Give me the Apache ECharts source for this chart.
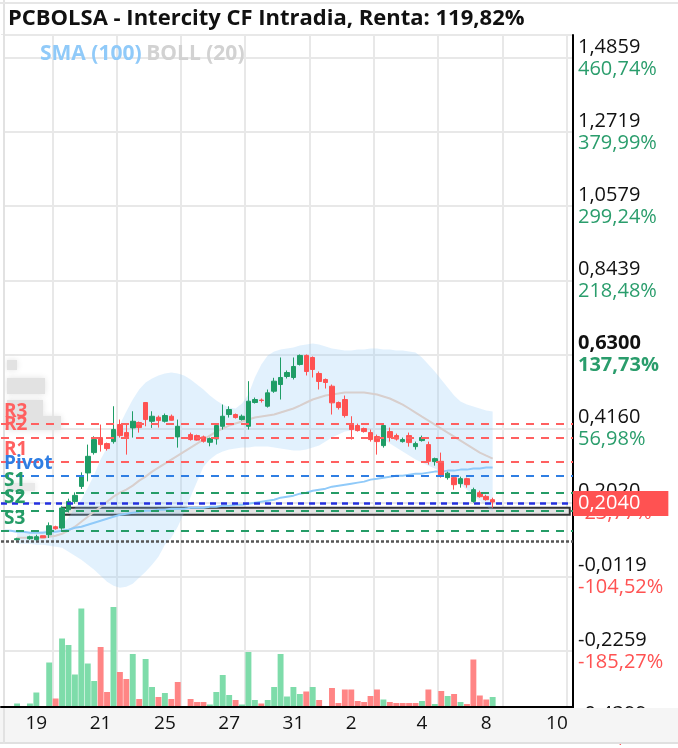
<!DOCTYPE html>
<html><head><meta charset="utf-8">
<script src="https://cdn.jsdelivr.net/npm/echarts@6/dist/echarts.min.js"></script>
<style>html,body{margin:0;padding:0;background:#fff}#c{width:678px;height:748px}</style>
</head><body><div id="c"></div>
<script>
// ---- data ----
const opens  = [null,null,0.0950,null,0.0979,0.0950,0.1066,0.1094,0.1326,0.1288,0.1817,0.2057,0.2491,0.2879,0.3466,0.3900,0.3726,0.3784,0.4276,0.4044,0.4180,0.4333,0.4912,0.4371,0.4487,0.4371,0.4516,0.3920,null,0.3986,0.3957,0.3920,0.3764,0.3862,0.4226,0.4565,0.4565,0.4420,0.4226,0.4912,0.4984,0.4805,0.5239,0.5432,0.5664,0.5635,0.6011,0.6271,0.6213,0.5751,0.5577,0.5383,0.4912,0.4999,0.4276,0.4247,0.4160,0.4044,0.3929,0.3668,0.4073,0.3957,0.3784,0.3957,0.3639,0.3813,0.3697,0.3206,0.3214,0.2743,0.2743,0.2569,0.2714,0.2057,0.2309,0.2202,0.2107];
const closes = [null,null,0.0979,null,0.1037,0.1037,0.1008,0.1355,0.1268,0.1867,0.2057,0.2231,0.2801,0.3359,0.3842,0.3697,0.3582,0.4131,0.3957,0.3929,0.4371,0.4189,0.4420,0.4516,0.4391,0.4536,0.4400,0.4226,null,0.3842,0.3827,0.3793,0.3871,0.4247,0.4516,0.4709,0.4478,0.4516,0.4950,0.4999,0.4970,0.5192,0.5528,0.5635,0.5779,0.5953,0.6271,0.5808,0.5866,0.5519,0.5490,0.4903,0.4767,0.4536,0.4131,0.4102,0.4073,0.3842,0.3784,0.4247,0.3900,0.3856,0.3842,0.3755,0.3726,0.3900,0.3214,0.3292,0.2780,0.2873,0.2540,0.2714,0.2540,0.2396,0.2193,0.2107,0.2040];
const lows   = [null,null,0.0921,null,0.0950,0.0921,0.1008,0.1001,0.1239,0.1239,0.1739,0.1991,0.2416,0.2636,0.3408,0.3495,0.3524,0.3726,0.3900,0.3408,0.3900,0.4044,0.4226,0.4180,0.4189,0.4334,0.4391,0.3610,null,0.3813,0.3813,0.3755,0.3648,0.3697,0.4131,0.4478,0.4449,0.4391,0.4131,0.4883,0.4912,0.4767,0.5192,0.4999,0.5606,0.5577,0.5982,0.5693,0.5635,0.5288,0.5317,0.4565,0.4709,0.4478,0.3842,0.4073,0.4044,0.3784,0.3408,0.3610,0.3784,0.3813,0.3755,0.3639,0.3553,0.3784,0.3119,0.3090,0.2743,0.2685,0.2396,0.2454,0.2454,0.2020,0.2164,0.2078,0.1875];
const highs  = [null,null,0.1008,null,0.1066,0.1094,0.1066,0.1450,0.1355,0.1913,0.2136,0.2318,0.2896,0.3697,0.3937,0.4276,0.3755,0.4805,0.4420,0.4276,0.4660,0.4362,0.4912,0.4660,0.4536,0.4594,0.4565,0.4420,null,0.4044,0.3986,0.3957,0.3900,0.4276,0.4854,0.4805,0.4594,0.4565,0.5528,0.5056,0.5027,0.5288,0.5626,0.6213,0.5837,0.6213,0.6300,0.6300,0.6242,0.5808,0.5606,0.5432,0.4941,0.5114,0.4516,0.4305,0.4189,0.4131,0.3986,0.4305,0.4189,0.4015,0.3900,0.4044,0.3784,0.3957,0.3784,0.3321,0.3466,0.2916,0.2772,0.2772,0.2743,0.2454,0.2367,0.2251,0.2164];
const volumes = [null,null,3.5,null,3.5,14.5,0.5,44.5,8.5,68.5,62,32.5,98.5,43.5,26,60,15,100,35,28,53,8,48,20,10,14,8,25,null,8,5,5,2.5,15,32,12,7,2.5,55,7,3.5,7,20,53,10.5,20,13,15.5,20,7,0.5,19,4,17.5,17.5,6,5,11,17.5,7.5,5,4,4,4,4,6,17.5,3,16,11,13,5,3,47.5,11.5,7.5,10];
const volumeRising = [0,0,1,0,1,1,0,1,0,1,1,1,1,1,1,0,0,1,0,0,1,0,1,1,0,1,0,0,0,0,0,0,1,1,1,1,0,1,1,1,0,1,1,1,1,1,1,0,1,0,0,0,0,0,0,0,0,0,0,1,0,0,0,0,0,1,0,1,0,1,0,1,0,0,0,0,1];
const sma100 = [0.1211,0.1211,0.1182,0.1182,0.1153,0.1153,0.1153,0.1182,0.1182,0.1211,0.1240,0.1297,0.1326,0.1384,0.1442,0.1500,0.1558,0.1616,0.1673,0.1702,0.1731,0.1760,0.1789,0.1789,0.1818,0.1818,0.1847,0.1847,0.1847,0.1876,0.1876,0.1876,0.1905,0.1905,0.1934,0.1934,0.1963,0.1963,0.1991,0.2020,0.2049,0.2078,0.2107,0.2165,0.2194,0.2223,0.2281,0.2310,0.2367,0.2396,0.2425,0.2483,0.2512,0.2541,0.2570,0.2599,0.2628,0.2686,0.2714,0.2743,0.2772,0.2801,0.2801,0.2830,0.2859,0.2859,0.2888,0.2917,0.2917,0.2946,0.2946,0.2975,0.2975,0.3004,0.3004,0.3033,0.3033];
const bollUpper = [null,null,0.1182,0.1182,0.1182,0.1182,0.1211,0.1240,0.1297,0.1413,0.1587,0.1876,0.2107,0.2454,0.2830,0.3264,0.3611,0.3900,0.4276,0.4652,0.4999,0.5288,0.5490,0.5606,0.5693,0.5751,0.5779,0.5751,0.5693,0.5577,0.5432,0.5288,0.5114,0.4970,0.4854,0.4767,0.4739,0.4883,0.5143,0.5635,0.6011,0.6271,0.6387,0.6445,0.6473,0.6502,0.6560,0.6589,0.6618,0.6589,0.6531,0.6473,0.6445,0.6416,0.6416,0.6445,0.6445,0.6473,0.6473,0.6445,0.6445,0.6416,0.6416,0.6387,0.6358,0.6213,0.6011,0.5808,0.5577,0.5346,0.5114,0.4941,0.4854,0.4796,0.4739,0.4681,0.4652];
const bollMid = [null,null,0.1008,0.1008,0.1008,0.1008,0.1008,0.1037,0.1066,0.1124,0.1211,0.1326,0.1471,0.1616,0.1760,0.1905,0.2049,0.2194,0.2310,0.2396,0.2512,0.2657,0.2772,0.2917,0.3033,0.3148,0.3264,0.3379,0.3495,0.3611,0.3726,0.3842,0.3958,0.4073,0.4160,0.4247,0.4305,0.4363,0.4420,0.4478,0.4507,0.4536,0.4565,0.4623,0.4681,0.4739,0.4825,0.4912,0.4999,0.5057,0.5114,0.5143,0.5172,0.5201,0.5201,0.5201,0.5201,0.5172,0.5143,0.5086,0.5028,0.4941,0.4854,0.4739,0.4623,0.4507,0.4392,0.4276,0.4160,0.4044,0.3929,0.3813,0.3698,0.3582,0.3466,0.3379,0.3293];
const bollLower = [null,null,0.0835,0.0835,0.0835,0.0806,0.0806,0.0777,0.0748,0.0719,0.0604,0.0488,0.0372,0.0228,0.0083,-0.0091,-0.0264,-0.0380,-0.0437,-0.0409,-0.0322,-0.0149,0.0025,0.0228,0.0459,0.0806,0.1008,0.1326,0.1731,0.2194,0.2628,0.3061,0.3264,0.3408,0.3495,0.3553,0.3582,0.3611,0.3611,0.3640,0.3640,0.3640,0.3611,0.3582,0.3553,0.3524,0.3524,0.3553,0.3611,0.3669,0.3784,0.3900,0.3987,0.4073,0.4102,0.4102,0.4073,0.4016,0.3929,0.3842,0.3726,0.3611,0.3495,0.3379,0.3264,0.3177,0.3090,0.3004,0.2917,0.2801,0.2686,0.2541,0.2396,0.2223,0.2078,0.1934,0.1760];

const slotCount = 89;
const dateLabels = ['19','21','25','27','31','2','4','8','10'];
const dateLabelSlots = [5,15,25,35,45,54,65,75,86];
const priceTickLabels = ['-0,4399','-0,2259','-0,0119','0,2020','0,4160','0,6300','0,8439','1,0579','1,2719','1,4859'];
const pctTickLabels = ['-266,02%','-185,27%','-104,52%','-23,77%','56,98%','137,73%','218,48%','299,24%','379,99%','460,74%'];
const pivotNames = ['R3','R2','R1','Pivot','S1','S2','S3'];
const pivotValues = [0.4276,0.3871,0.3235,0.2830,0.2251,0.1789,0.1211];
const lastPrice = 0.2040, lastPriceLabel = '0,2040';
const lowLevel = 0.0922;
const positionBand = [0.1876, 0.1673];
const positionStartSlot = 9;

// ---- build ----
const FONT = "'Open Sans', 'Noto Sans', sans-serif";
const categories = Array.from({length: slotCount}, (_, i) => {
  const k = dateLabelSlots.indexOf(i); return k >= 0 ? dateLabels[k] : '';
});
const num = s => parseFloat(s.replace(',', '.'));
const tickVals = priceTickLabels.map(num);
const yMin = tickVals[0];
const yInterval = (tickVals[tickVals.length-1] - tickVals[0]) / (tickVals.length - 1);
const yMax = 1.5524;

const candleData = opens.map((o, i) => o == null ? '-' : [o, closes[i], lows[i], highs[i]]);
const UP = '#1f9d66', DOWN = '#ff5252';
const volData = volumes.map((v, i) => v == null ? '-' : {value: v, itemStyle: {color: volumeRising[i] ? '#7edcaa' : '#ff8585'}});
const bandDiff = bollUpper.map((u, i) => u == null ? '-' : +(u - bollLower[i]).toFixed(4));
const pivotColors = ['#ff6060','#ff6060','#ff6060','#2f7ee3','#259c67','#259c67','#259c67'];
const rs = (c, w) => ({color: c, fontSize: 20, lineHeight: 22, fontWeight: w, fontFamily: FONT});

const chart = echarts.init(document.getElementById('c'));
chart.setOption({
  animation: false,
  textStyle: {fontFamily: FONT},
  title: [
    {text: 'PCBOLSA - Intercity CF Intradia, Renta: 119,82%', left: 3, top: 3,
     textStyle: {fontSize: 22, fontWeight: 'bold', color: '#111', fontFamily: FONT}},
    {text: '{a|SMA (100)} {b|BOLL (20)}', left: 35, top: 39,
     textStyle: {rich: {a: {color: '#90caf9', fontSize: 21, fontWeight: 'bold', fontFamily: FONT},
                        b: {color: '#d2d2d2', fontSize: 21, fontWeight: 'bold', fontFamily: FONT}}}}
  ],
  grid: [
    {left: 1, right: 105, top: 35, bottom: 23},
    {left: 1, right: 105, bottom: 41, height: 120}
  ],
  xAxis: [
    {type: 'category', gridIndex: 0, data: categories, boundaryGap: true,
     axisLine: {show: false}, axisTick: {show: false}, axisLabel: {show: false},
     splitLine: {show: true, interval: (i) => i >= 8 && (i - 8) % 10 === 0, lineStyle: {color: '#e8e8e8', width: 2}}},
    {type: 'category', gridIndex: 1, data: categories, boundaryGap: true, z: 10,
     axisLine: {show: true, lineStyle: {color: '#000', width: 2}}, axisTick: {show: false},
     axisLabel: {interval: (i, v) => v !== '', color: '#111', fontSize: 19, margin: 7, fontFamily: FONT},
     splitLine: {show: false}}
  ],
  yAxis: [
    {type: 'value', gridIndex: 0, position: 'right', min: yMin, max: yMax, interval: yInterval, scale: true,
     axisLine: {show: true, lineStyle: {color: '#000', width: 2}}, axisTick: {show: false},
     splitLine: {show: true, lineStyle: {color: '#e8e8e8', width: 2}},
     axisLabel: {margin: 5, showMaxLabel: false,
       formatter: (v) => {
         const i = tickVals.findIndex(t => Math.abs(t - v) < yInterval / 4);
         if (i < 0) return '';
         const neg = pctTickLabels[i].startsWith('-');
         const b = i === 5 ? 'b' : '';
         return '{p' + b + '|' + priceTickLabels[i] + '}\n{' + (neg ? 'r' : 'g') + b + '|' + pctTickLabels[i] + '}';
       },
       rich: {
         p: rs('#111', 'normal'), pb: rs('#111', 'bold'),
         g: rs('#2a9d6c', 'normal'), gb: rs('#2a9d6c', 'bold'),
         r: rs('#ff5252', 'normal'), rb: rs('#ff5252', 'bold')
       }}},
    {type: 'value', gridIndex: 1, min: 0, max: 120, show: false, splitLine: {show: false}}
  ],
  series: [
    {name: 'bollLow', type: 'line', data: bollLower, stack: 'boll', stackStrategy: 'all', symbol: 'none',
     lineStyle: {opacity: 0}, silent: true, z: 1},
    {name: 'bollBand', type: 'line', data: bandDiff, stack: 'boll', stackStrategy: 'all', symbol: 'none',
     lineStyle: {opacity: 0}, areaStyle: {color: 'rgba(144,202,249,0.26)', opacity: 1}, silent: true, z: 1},
    {name: 'BOLL (20)', type: 'line', data: bollMid, symbol: 'none', lineStyle: {color: '#d8cfcd', width: 2}, z: 2, silent: true},
    {name: 'SMA (100)', type: 'line', data: sma100, symbol: 'none', lineStyle: {color: '#90caf9', width: 2}, z: 2, silent: true},
    {name: 'PCBOLSA', type: 'candlestick', data: candleData, barWidth: 5, z: 3,
     itemStyle: {color: UP, color0: DOWN, borderColor: UP, borderColor0: DOWN, borderWidth: 1},
     markArea: {silent: true, itemStyle: {color: '#e4e4e4', borderColor: '#333', borderWidth: 2},
       data: [[{xAxis: positionStartSlot, yAxis: positionBand[0]}, {xAxis: slotCount - 1, yAxis: positionBand[1]}]]},
     markLine: {silent: true, symbol: ['none', 'none'], animation: false,
       data: [
         ...pivotNames.map((n, i) => ({name: n, yAxis: pivotValues[i],
           lineStyle: {color: pivotColors[i], type: [8, 7], width: 2},
           label: {show: true, formatter: n, position: 'insideStartTop', distance: [3, 3], color: pivotColors[i],
                   fontSize: 19, fontWeight: 'bold', fontFamily: FONT}})),
         {yAxis: lowLevel, lineStyle: {color: '#555', type: [3, 2], width: 2.5}, label: {show: false}},
         {yAxis: lastPrice, lineStyle: {color: '#2430e0', type: [6, 5], width: 2.5},
          label: {show: true, position: 'end', formatter: lastPriceLabel, distance: 0, backgroundColor: '#ff5252',
                  color: '#fff', fontSize: 20, fontFamily: FONT, padding: [3, 28, 2, 5]}}
       ]}},
    {name: 'Volumen', type: 'bar', xAxisIndex: 1, yAxisIndex: 1, data: volData, barWidth: '92%', z: 2}
  ],
  graphic: [
    {type: 'rect', z: 5, silent: true, shape: {x: 0, y: 708, width: 678, height: 35}, style: {fill: '#f5f5f5'}},
    {type: 'rect', z: 5, silent: true, shape: {x: 0, y: 742, width: 678, height: 2}, style: {fill: '#e0e0e0'}},
    {type: 'rect', z: 5, silent: true, shape: {x: 0, y: 35, width: 4, height: 673}, style: {fill: '#fff'}},
    {type: 'rect', z: 5, silent: true, shape: {x: 3, y: 0, width: 2, height: 744}, style: {fill: '#e2e2e2'}},
    {type: 'rect', z: 5, silent: true, shape: {x: 0, y: 2, width: 678, height: 2}, style: {fill: '#e6e6e6'}},
    {type: 'rect', z: 1, silent: true, shape: {x: 7, y: 360, width: 10, height: 10}, style: {fill: '#e2e2e2', shadowBlur: 6, shadowColor: '#e2e2e2'}},
    {type: 'rect', z: 1, silent: true, shape: {x: 7, y: 378, width: 38, height: 16}, style: {fill: '#e2e2e2', shadowBlur: 6, shadowColor: '#e2e2e2'}},
    {type: 'rect', z: 1, silent: true, shape: {x: 7, y: 400, width: 36, height: 16}, style: {fill: '#e2e2e2', shadowBlur: 6, shadowColor: '#e2e2e2'}},
    {type: 'rect', z: 1, silent: true, shape: {x: 7, y: 416, width: 54, height: 14}, style: {fill: '#e2e2e2', shadowBlur: 6, shadowColor: '#e2e2e2'}},
    {type: 'rect', z: 1, silent: true, shape: {x: 7, y: 483, width: 28, height: 8}, style: {fill: '#e8e8e8', shadowBlur: 6, shadowColor: '#e8e8e8'}}
  ]
});
</script>
</body></html>
